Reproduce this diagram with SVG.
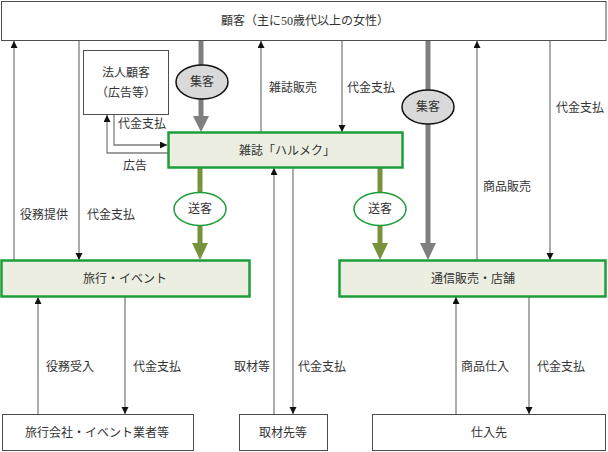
<svg xmlns="http://www.w3.org/2000/svg" width="608" height="452" viewBox="0 0 608 452">
<style>
text{font-family:"Liberation Serif","Noto Sans CJK JP",serif;font-size:12px;fill:#333}
.box{fill:#fff;stroke:#4d4d4d;stroke-width:1}
.gbox{fill:#ebeee0;stroke:#1e9e3a;stroke-width:2.5}
.ln{fill:none;stroke:#7f7f7f;stroke-width:1.3}
.thick{stroke:#7f7f7f;stroke-width:5}
.olive{stroke:#76923c;stroke-width:5}
.ell{fill:#d9d9d9;stroke:#111;stroke-width:1.5}
.gell{fill:#fff;stroke:#1e9e3a;stroke-width:1.5}
.c{text-anchor:middle}
</style>
<defs>
<marker id="ah" markerUnits="userSpaceOnUse" markerWidth="8" markerHeight="8" refX="7" refY="3.5" orient="auto"><path d="M0,0 L7,3.5 L0,7 z" fill="#111"/></marker>
</defs>
<g id="connectors">
<path class="ln" d="M14,260 V41" marker-end="url(#ah)"/>
<path class="ln" d="M79,41 V260" marker-end="url(#ah)"/>
<path class="ln" d="M261,132 V41" marker-end="url(#ah)"/>
<path class="ln" d="M342,41 V132" marker-end="url(#ah)"/>
<path class="ln" d="M477,260 V41" marker-end="url(#ah)"/>
<path class="ln" d="M550,41 V260" marker-end="url(#ah)"/>
<path class="ln" d="M38,414 V297" marker-end="url(#ah)"/>
<path class="ln" d="M125,297 V414" marker-end="url(#ah)"/>
<path class="ln" d="M274,414 V168" marker-end="url(#ah)"/>
<path class="ln" d="M293,168 V414" marker-end="url(#ah)"/>
<path class="ln" d="M456,414 V297" marker-end="url(#ah)"/>
<path class="ln" d="M529,297 V414" marker-end="url(#ah)"/>
<path class="ln" d="M168,153 H107 V115" marker-end="url(#ah)"/>
<path class="ln" d="M114,114 V145 H167" marker-end="url(#ah)"/>
<line class="thick" x1="201" y1="41" x2="201" y2="117"/>
<polygon points="193,116 209,116 201,132" fill="#7f7f7f"/>
<line class="thick" x1="428" y1="41" x2="428" y2="244"/>
<polygon points="420,243 436,243 428,260" fill="#7f7f7f"/>
<line class="olive" x1="200" y1="168" x2="200" y2="244"/>
<polygon points="192,243 208,243 200,260" fill="#76923c"/>
<line class="olive" x1="380" y1="168" x2="380" y2="244"/>
<polygon points="372,243 388,243 380,260" fill="#76923c"/>
</g>
<g id="customer"><rect class="box" x="1.5" y="1.5" width="604.5" height="39"/><text class="c" x="305" y="25">顧客（主に50歳代以上の女性）</text></g>
<g id="corporate"><rect class="box" x="83.5" y="50.5" width="85" height="64"/><text class="c" x="126" y="77">法人顧客</text><text class="c" x="126" y="97">（広告等）</text></g>
<g id="magazine"><rect class="gbox" x="168.5" y="132.5" width="234" height="35"/><text class="c" x="287" y="155">雑誌「ハルメク」</text></g>
<g id="travel"><rect class="gbox" x="1.5" y="260.5" width="248" height="36"/><text class="c" x="125" y="283">旅行・イベント</text></g>
<g id="mailorder"><rect class="gbox" x="339.5" y="260.5" width="266" height="36"/><text class="c" x="473" y="283">通信販売・店舗</text></g>
<g id="agents"><rect class="box" x="2.5" y="414.5" width="191" height="36"/><text class="c" x="97" y="437">旅行会社・イベント業者等</text></g>
<g id="sources"><rect class="box" x="239.5" y="414.5" width="88" height="36"/><text class="c" x="283" y="437">取材先等</text></g>
<g id="suppliers"><rect class="box" x="372.5" y="414.5" width="233" height="36"/><text class="c" x="489" y="437">仕入先</text></g>
<g id="collect1"><ellipse class="ell" cx="202" cy="82" rx="26" ry="17"/><text class="c" x="202" y="86">集客</text></g>
<g id="collect2"><ellipse class="ell" cx="428" cy="107" rx="26" ry="17"/><text class="c" x="428" y="111">集客</text></g>
<g id="send1"><ellipse class="gell" cx="200" cy="209" rx="26" ry="16.5"/><text class="c" x="200" y="213">送客</text></g>
<g id="send2"><ellipse class="gell" cx="380" cy="209" rx="26" ry="16.5"/><text class="c" x="380" y="213">送客</text></g>
<g id="labels">
<text x="269" y="92">雑誌販売</text>
<text x="347" y="92">代金支払</text>
<text x="556" y="112">代金支払</text>
<text x="118" y="128">代金支払</text>
<text x="123" y="170">広告</text>
<text x="20" y="219">役務提供</text>
<text x="87" y="219">代金支払</text>
<text x="483" y="191">商品販売</text>
<text x="46" y="371">役務受入</text>
<text x="133" y="371">代金支払</text>
<text x="234" y="371">取材等</text>
<text x="298" y="371">代金支払</text>
<text x="461" y="371">商品仕入</text>
<text x="537" y="371">代金支払</text>
</g>
</svg>
